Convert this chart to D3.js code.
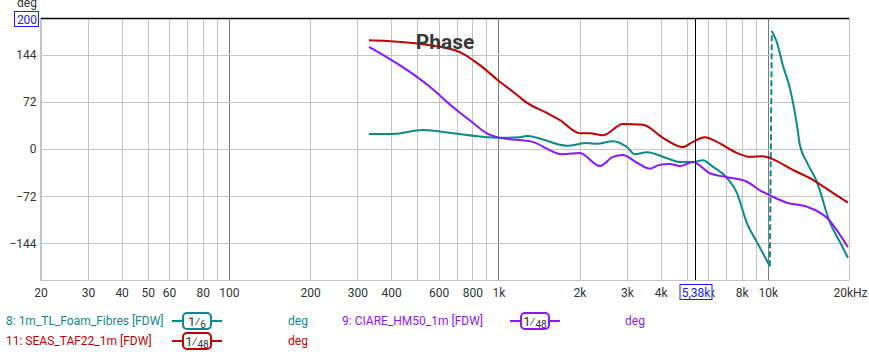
<!DOCTYPE html>
<html>
<head>
<meta charset="utf-8">
<script src="https://cdn.jsdelivr.net/npm/d3@7"></script>
<style>
  body { margin: 0; background: #fff; }
  svg { display: block; font-family: Roboto, sans-serif; }
</style>
</head>
<body>
<div id="chart"></div>
<script>
// dados (Hz, graus)
const tealFreq1 = [331, 406, 525, 678, 907, 1017, 1202, 1276, 1796, 2130, 2321, 2660, 2999, 3211, 3556, 4221, 4716, 5270, 5740, 6250, 7046, 7674, 8358, 9104, 10170];
const tealDeg1  = [23, 23, 29, 24, 18, 17, 18, 20, 5, 9, 8, 12, 3, -8, -5, -14, -20, -20, -17, -27, -44, -67, -113, -142, -179];
const tealFreq2 = [10346, 10800, 11364, 12064, 12378, 12813, 13146, 13952, 15198, 16982, 18508, 19812];
const tealDeg2  = [180, 163, 128, 93, 72, 37, 6, -20, -50, -112, -142, -166];

const purpleFreq = [331, 442, 557, 678, 804, 907, 1017, 1171, 1309, 1735, 2006, 2380, 2660, 2897, 3267, 3649, 3976, 4331, 4716, 5270, 6092, 7046, 8358, 9340, 10435, 11763, 13952, 16553, 19812];
const purpleDeg  = [156, 125, 95, 64, 40, 24, 17, 14, 12, -8, -6, -26, -12, -9, -21, -30, -24, -23, -26, -20, -37, -43, -50, -63, -73, -82, -88, -105, -150];

const redFreq = [331, 386, 480, 607, 720, 854, 996, 1202, 1233, 1514, 1692, 2006, 2185, 2442, 2897, 3437, 4080, 4837, 5270, 5839, 6467, 7674, 8576, 9582, 10346, 12378, 14689, 17425, 19812];
const redDeg  = [166, 165, 162, 156, 148, 128, 105, 79, 75, 55, 44, 24, 24, 21, 38, 37, 17, 3, 11, 18, 11, -6, -12, -11, -15, -32, -47, -67, -82];

const xTickValues = [20, 30, 40, 50, 60, 80, 100, 200, 300, 400, 600, 800, 1000, 2000, 3000, 4000, 6000, 8000, 10000, 20000];
const xTickLabels = ["20", "30", "40", "50", "60", "80", "100", "200", "300", "400", "600", "800", "1k", "2k", "3k", "4k", "6k", "8k", "10k", "20kHz"];
const yTickValues = [144, 72, 0, -72, -144];
const cursorFreq = 5380;

const legendItems = [
  { name: "8: 1m_TL_Foam_Fibres [FDW]", color: "#0a8a8a", num: "6", col: 0, row: 0 },
  { name: "9: CIARE_HM50_1m [FDW]", color: "#8a16ff", num: "48", col: 1, row: 0 },
  { name: "11: SEAS_TAF22_1m [FDW]", color: "#c00000", num: "48", col: 0, row: 1 }
];

const W = 869, H = 352;
const plot = { left: 40.5, right: 849, top: 18, bottom: 280 };

const svg = d3.select("#chart").append("svg")
  .attr("width", W).attr("height", H);

const x = d3.scaleLog().domain([20, 20000]).range([plot.left, plot.right]);
const y = d3.scaleLinear().domain([-200, 200]).range([plot.bottom, plot.top]);

// grade
const gridFreqs = [];
[10, 100, 1000, 10000].forEach(dec => {
  for (let k = 1; k <= 9; k++) {
    const f = dec * k;
    if (f >= 20 && f <= 20000) gridFreqs.push(f);
  }
});
gridFreqs.push(20000);

svg.append("g").selectAll("line")
  .data(gridFreqs)
  .enter().append("line")
  .attr("x1", d => Math.round(x(d)) + 0.5).attr("x2", d => Math.round(x(d)) + 0.5)
  .attr("y1", plot.top).attr("y2", plot.bottom)
  .attr("stroke", d => [100, 1000, 10000].includes(d) ? "#7a7a7a" : "#c4c4c4")
  .attr("stroke-width", 1);

svg.append("g").selectAll("line")
  .data(yTickValues)
  .enter().append("line")
  .attr("x1", plot.left).attr("x2", plot.right)
  .attr("y1", d => Math.round(y(d)) + 0.5).attr("y2", d => Math.round(y(d)) + 0.5)
  .attr("stroke", "#c4c4c4");

// borda
svg.append("line")
  .attr("x1", plot.left).attr("x2", plot.right)
  .attr("y1", plot.top + 0.5).attr("y2", plot.top + 0.5)
  .attr("stroke", "#000").attr("stroke-width", 1.5);
svg.append("line")
  .attr("x1", plot.left).attr("x2", plot.right)
  .attr("y1", plot.bottom + 0.5).attr("y2", plot.bottom + 0.5)
  .attr("stroke", "#c4c4c4");
svg.append("line")
  .attr("x1", plot.left).attr("x2", plot.left)
  .attr("y1", plot.top).attr("y2", plot.bottom)
  .attr("stroke", "#c4c4c4");

// eixos (texto)
const xAxis = d3.axisBottom(x)
  .tickValues(xTickValues)
  .tickFormat((d, i) => xTickLabels[i])
  .tickSize(0).tickPadding(8);
const gx = svg.append("g")
  .attr("transform", `translate(0,${plot.bottom})`)
  .call(xAxis);
gx.select(".domain").remove();
gx.selectAll("text")
  .attr("font-size", 12).attr("fill", "#333")
  .attr("font-family", "Roboto, sans-serif")
  .attr("dx", (d, i) => xTickLabels[i] === "20kHz" ? 1 : 0);

const yAxis = d3.axisLeft(y).tickValues(yTickValues).tickSize(0).tickPadding(4);
const gy = svg.append("g")
  .attr("transform", `translate(${plot.left},0)`)
  .call(yAxis);
gy.select(".domain").remove();
gy.selectAll("text")
  .attr("font-size", 12).attr("fill", "#333")
  .attr("font-family", "Roboto, sans-serif");

// topo: deg + 200
svg.append("text")
  .attr("x", 27).attr("y", 7)
  .attr("text-anchor", "middle")
  .attr("font-size", 12).attr("fill", "#333")
  .text("deg");
svg.append("rect")
  .attr("x", 14.5).attr("y", 11.5).attr("width", 24).attr("height", 15)
  .attr("fill", "#fff").attr("stroke", "#1a1aff");
svg.append("text")
  .attr("x", 27).attr("y", 23.5)
  .attr("text-anchor", "middle")
  .attr("font-size", 12).attr("fill", "#1a1aff")
  .text("200");

// linhas
const line = d3.line()
  .x(d => x(d[0]))
  .y(d => y(d[1]))
  .curve(d3.curveMonotoneX);

const zip = (fs, ds) => fs.map((f, i) => [f, ds[i]]);

const series = [
  { data: zip(tealFreq1, tealDeg1), color: "#0a8a8a" },
  { data: zip(tealFreq2, tealDeg2), color: "#0a8a8a" },
  { data: zip(purpleFreq, purpleDeg), color: "#8a16ff" },
  { data: zip(redFreq, redDeg), color: "#c00000" }
];

// linha tracejada do wrap
svg.append("line")
  .attr("x1", x(tealFreq1[tealFreq1.length - 1])).attr("y1", y(tealDeg1[tealDeg1.length - 1]))
  .attr("x2", x(tealFreq2[0])).attr("y2", y(tealDeg2[0]))
  .attr("stroke", "#0a8a8a").attr("stroke-width", 2)
  .attr("stroke-dasharray", "6,3");

svg.append("g").selectAll("path")
  .data(series)
  .enter().append("path")
  .attr("fill", "none")
  .attr("stroke", d => d.color)
  .attr("stroke-width", 2)
  .attr("stroke-linejoin", "round")
  .attr("d", d => line(d.data));

// titulo
svg.append("text")
  .attr("x", 445).attr("y", 49)
  .attr("text-anchor", "middle")
  .attr("font-size", 21).attr("font-weight", "bold")
  .attr("fill", "#3a3a3a")
  .text("Phase");

// cursor
const cx = Math.round(x(cursorFreq)) + 0.5;
svg.append("line")
  .attr("x1", cx).attr("x2", cx)
  .attr("y1", plot.top).attr("y2", plot.bottom)
  .attr("stroke", "#000").attr("stroke-width", 1);
svg.append("rect")
  .attr("x", cx - 15.5).attr("y", 284.5).attr("width", 32).attr("height", 15)
  .attr("fill", "#fff").attr("stroke", "#1a1aff");
svg.append("text")
  .attr("x", cx + 0.5).attr("y", 296.5)
  .attr("text-anchor", "middle")
  .attr("font-size", 12).attr("fill", "#1a1aff")
  .text("5,38k");

// legenda
const colX = [6, 342];
const symX = [172, 510];
const degX = [288, 625];
const rowY = [321, 341];

const leg = svg.append("g").selectAll("g")
  .data(legendItems)
  .enter().append("g");

leg.append("text")
  .attr("x", d => colX[d.col]).attr("y", d => rowY[d.row] + 4)
  .attr("font-size", 12).attr("fill", d => d.color)
  .text(d => d.name);

leg.append("line")
  .attr("x1", d => symX[d.col]).attr("x2", d => symX[d.col] + 50)
  .attr("y1", d => rowY[d.row]).attr("y2", d => rowY[d.row])
  .attr("stroke", d => d.color).attr("stroke-width", 2);

leg.append("rect")
  .attr("x", d => symX[d.col] + 11).attr("y", d => rowY[d.row] - 8)
  .attr("width", 28).attr("height", 16).attr("rx", 4)
  .attr("fill", "#fff")
  .attr("stroke", d => d.color).attr("stroke-width", 2);

const frac = leg.append("text")
  .attr("x", d => symX[d.col] + 25).attr("y", d => rowY[d.row] + 5)
  .attr("text-anchor", "middle")
  .attr("fill", "#333");
frac.append("tspan").attr("font-size", 13).text("1");
frac.append("tspan").attr("font-size", 13).attr("dx", -1).text("\u2044");
frac.append("tspan").attr("font-size", 10).attr("dy", 2).text(d => d.num);

leg.append("text")
  .attr("x", d => degX[d.col]).attr("y", d => rowY[d.row] + 4)
  .attr("font-size", 12).attr("fill", d => d.color)
  .text("deg");
</script>
</body>
</html>
